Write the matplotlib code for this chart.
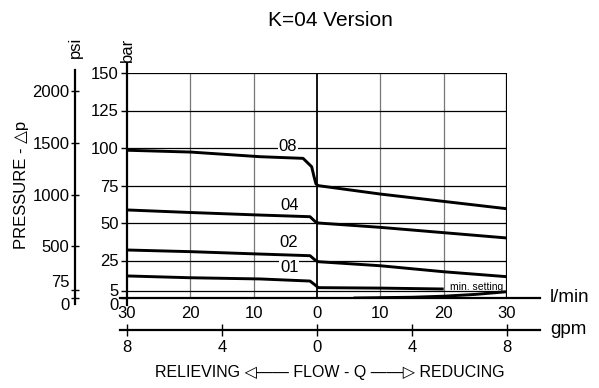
"""K=04 Version pressure / flow chart."""

import matplotlib
import matplotlib.pyplot as plt
import numpy as np

matplotlib.use("Agg")

plt.rcParams["font.family"] = ["Liberation Sans Narrow", "Liberation Sans", "DejaVu Sans"]
plt.rcParams["font.size"] = 12

# flow in l/min (negative = relieving side), pressure in bar
flow_08 = [-30, -20, -9, -2.2, -0.84, -0.47, -0.16, 0.2, 10, 30]
bar_08 = [98.5, 97.3, 94.2, 93.1, 87.5, 80.9, 76.0, 74.9, 69.3, 59.5]

flow_04 = [-30, -20, -9, -1.1, -0.3, 0.2, 10, 30]
bar_04 = [58.7, 57.0, 55.3, 54.2, 51.0, 50.0, 47.1, 40.0]

flow_02 = [-30, -20, -9, -1.1, -0.3, 0.2, 10, 20, 30]
bar_02 = [32.0, 30.9, 29.3, 28.2, 25.3, 24.2, 21.5, 17.5, 14.2]

flow_01 = [-30, -20, -9, -1.1, -0.3, 0.2, 10, 20]
bar_01 = [14.7, 13.5, 12.7, 11.3, 8.7, 6.9, 6.6, 6.0]

flow_min = [6, 15, 20, 25, 30]
bar_min = [0, 0.5, 1.2, 2.4, 4.2]

curve_names = ["08", "04", "02", "01"]
label_pos = [(-4.6, 100.7), (-4.4, 62), (-4.4, 36.7), (-4.4, 20)]

lmin_ticks = [-30, -20, -10, 0, 10, 20, 30]
gpm_ticks = [-8, -4, 0, 4, 8]
bar_ticks = [0, 5, 25, 50, 75, 100, 125, 150]
psi_ticks = [0, 75, 500, 1000, 1500, 2000]
PSI_PER_BAR = 14.5038

W, H = 599, 388
fig = plt.figure(figsize=(W / 100, H / 100), dpi=100)

# main plot area
ax = fig.add_axes([127 / W, 90 / H, 380 / W, 225 / H])
ax.set_xlim(-30, 30)
ax.set_ylim(0, 150)
for s in ax.spines.values():
    s.set_visible(False)

for v in [-20, -10, 10, 20]:
    ax.axvline(v, color="#777777", lw=0.9, zorder=1)
ax.axvline(0, color="black", lw=1.3, zorder=2)
ax.axvline(30, color="black", lw=1.6, zorder=2)
for b in bar_ticks[1:]:
    ax.axhline(b, color="black", lw=0.9, zorder=1)

for fx, by in [(flow_08, bar_08), (flow_04, bar_04), (flow_02, bar_02), (flow_01, bar_01)]:
    ax.plot(fx, by, color="black", lw=2.1, solid_capstyle="butt", zorder=3)
ax.plot(flow_min, bar_min, color="black", lw=2.1, zorder=3)

for name, (lx, ly) in zip(curve_names, label_pos):
    ax.text(lx, ly, name, ha="center", va="center", fontsize=12, zorder=4,
            bbox=dict(facecolor="white", edgecolor="none", pad=0.5))
ax.text(29.4, 7.3, "min. setting", ha="right", va="center", fontsize=7.5, zorder=4)

# flow (l/min) axis line and bar axis line
ax.plot([-31.1, 35.2], [0, 0], color="black", lw=1.6, clip_on=False, zorder=5)
ax.plot([-30, -30], [-4.7, 156.7], color="black", lw=1.6, clip_on=False, zorder=5)

ax.set_xticks(lmin_ticks)
ax.set_xticklabels([str(abs(t)) for t in lmin_ticks])
ax.tick_params(axis="x", length=0, pad=6, labelsize=12)
ax.set_yticks(bar_ticks)
ax.set_yticklabels([str(t) for t in bar_ticks])
ax.tick_params(axis="y", direction="out", length=4, width=1, pad=2, labelsize=12)
for t in ax.get_yticklabels():
    if t.get_text() == "0":
        t.set_va("top")
ax.text(36.8, 0, "l/min", ha="left", va="center", fontsize=13.5)
ax.text(-30, 157, "bar", rotation=90, ha="center", va="bottom", fontsize=12)

# psi axis
axp = fig.add_axes([75 / W, 90 / H, 0.0001, 225 / H])
axp.set_ylim(0, 150)
axp.set_xticks([])
for k in ["top", "right", "bottom"]:
    axp.spines[k].set_visible(False)
axp.spines["left"].set_bounds(-4, 152)
axp.spines["left"].set_linewidth(1.6)
axp.set_yticks([p / PSI_PER_BAR for p in psi_ticks])
axp.set_yticklabels([str(p) for p in psi_ticks])
axp.tick_params(axis="y", direction="inout", length=6, width=1, pad=1, labelsize=12)
for t in axp.get_yticklabels():
    if t.get_text() == "0":
        t.set_va("top")
    elif t.get_text() == "75":
        t.set_va("bottom")
axp.text(0, 160, "psi", rotation=90, ha="center", va="bottom", fontsize=12,
         transform=axp.get_yaxis_transform())
fig.text(22 / W, 1 - 185 / H, "PRESSURE - \u25b3p", rotation=90, ha="center", va="center",
         fontsize=12)

# gpm axis
axg = fig.add_axes([127 / W, 58 / H, 380 / W, 0.0001])
axg.set_xlim(-8, 8)
axg.set_yticks([])
for k in ["top", "right", "left"]:
    axg.spines[k].set_visible(False)
axg.spines["bottom"].set_bounds(-8.3, 9.4)
axg.spines["bottom"].set_linewidth(1.6)
axg.set_xticks(gpm_ticks)
axg.set_xticklabels([str(abs(t)) for t in gpm_ticks])
axg.tick_params(axis="x", direction="inout", length=8, width=1, pad=3, labelsize=12)
axg.text(9.8, 0, "gpm", ha="left", va="center", fontsize=13.5,
         transform=axg.get_xaxis_transform())

fig.text(330 / W, 1 - 372 / H,
         "RELIEVING \u25c1\u2014\u2014 FLOW - Q \u2014\u2014\u25b7 REDUCING",
         ha="center", va="center", fontsize=11.5)
fig.text(330 / W, 1 - 20 / H, "K=04 Version", ha="center", va="center", fontsize=15)

fig.savefig("out.png", dpi=100)
